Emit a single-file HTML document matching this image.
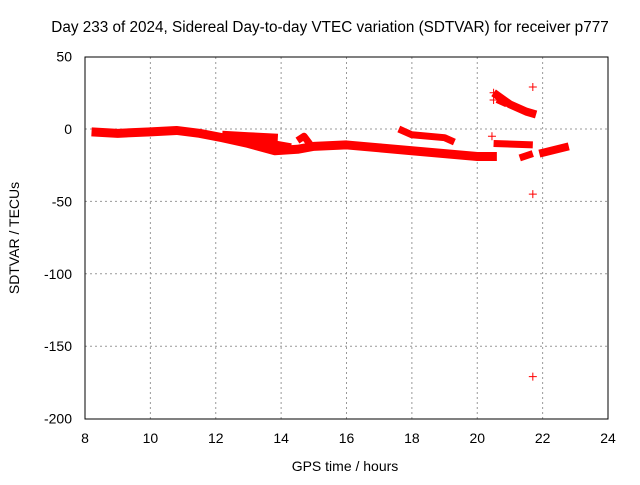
<!DOCTYPE html>
<html><head><meta charset="utf-8"><style>
body{margin:0;background:#fff}
svg text{font-family:"Liberation Sans",sans-serif;font-size:14px;fill:#000}
</style></head><body>
<svg id="c" width="640" height="480">
<text x="330" y="32" text-anchor="middle" style="font-size:15.3px">Day 233 of 2024, Sidereal Day-to-day VTEC variation (SDTVAR) for receiver p777</text>
<text x="345" y="471" text-anchor="middle">GPS time / hours</text>
<text transform="translate(19,238) rotate(-90)" text-anchor="middle">SDTVAR / TECUs</text>
<g id="grid"></g><g id="marks"></g>
<rect x="85" y="57" width="523" height="362" fill="none" stroke="#000"/>
</svg>
<script>
const xTicks=[8,10,12,14,16,18,20,22,24];
const yTicks=[50,0,-50,-100,-150,-200];
const trackMain=[[8.2,-2],[9,-3],[10,-2],[10.8,-1],[11.5,-3],[12.2,-6],[13,-10],[13.8,-15],[14.5,-14],[15,-12],[16,-11],[17,-13],[18,-15],[19,-17],[20,-19],[20.6,-19]];
const trackUpper=[[12.2,-4],[13,-5],[13.9,-6]];
const trackMid=[[12.3,-6],[13,-8],[13.8,-11],[14.3,-13]];
const trackSpike=[[14.5,-8],[14.7,-5],[14.9,-11]];
const trackB=[[17.6,0],[18,-4],[19,-6],[19.3,-9]];
const trackC=[[20.5,25],[21,17],[21.5,12],[21.8,10]];
const trackC3=[[20.6,20],[20.9,17]];
const trackC2=[[20.5,-10],[21.7,-11]];
const trackD=[[21.3,-20],[21.7,-17]];
const trackE=[[21.9,-17],[22.8,-12]];
const outliers=[[20.45,-5],[21.7,29],[21.7,-45],[21.7,-171],[20.5,20],[20.5,25]];
const X=h=>85+(h-8)*523/16, Y=v=>129-v*362/250;
const ns="http://www.w3.org/2000/svg", g=document.getElementById('grid'), m=document.getElementById('marks');
function mk(t,a,p){const e=document.createElementNS(ns,t);for(const k in a)e.setAttribute(k,a[k]);p.appendChild(e);return e;}
xTicks.forEach(t=>{const x=X(t);
 if(t>8&&t<24){const l=mk('line',{x1:x,x2:x,y1:57,y2:419,stroke:'#999','stroke-dasharray':'2,3'},g);
 
 }
 const tx=mk('text',{x:x,y:443,'text-anchor':'middle'},g);tx.textContent=t;
 
 });
yTicks.forEach(t=>{const y=Y(t);
 if(t<50&&t>-200){const l=mk('line',{x1:85,x2:608,y1:y,y2:y,stroke:'#999','stroke-dasharray':'2,3'},g);
 
 }
 const tx=mk('text',{x:72,y:y+5,'text-anchor':'end'},g);tx.textContent=t;
 
 });
[[trackMain,9],[trackUpper,8],[trackMid,9],[trackSpike,7],[trackB,7],[trackC,8],[trackC3,6],[trackC2,7],[trackD,7],[trackE,8]].forEach(([tr,w])=>{
 const p=mk('polyline',{points:tr.map(d=>X(d[0])+','+Y(d[1])).join(' '),fill:'none',stroke:'#f00','stroke-width':w,'stroke-linejoin':'round'},m);
 
 });
outliers.forEach(d=>{const x=X(d[0]),y=Y(d[1]);
 const p=mk('path',{d:`M${x-4},${y}H${x+4}M${x},${y-4}V${y+4}`,stroke:'#f00','stroke-width':1},m);
 
 });
</script>
</body></html>
